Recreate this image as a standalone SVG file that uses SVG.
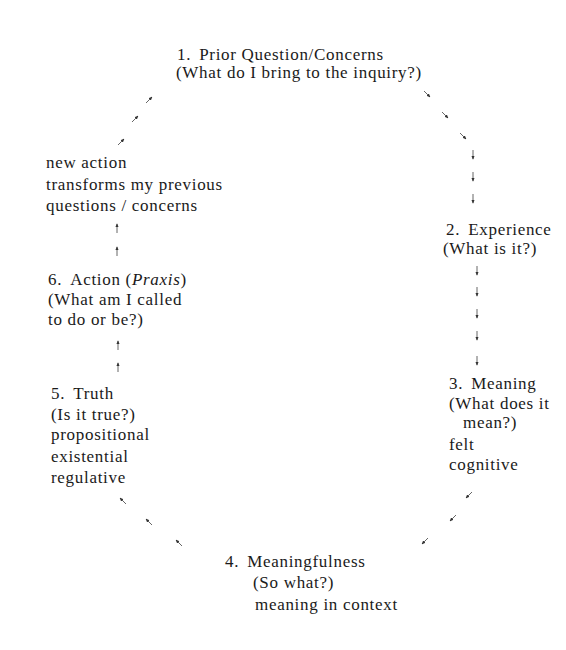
<svg xmlns="http://www.w3.org/2000/svg" width="566" height="650" viewBox="0 0 566 650">
<defs>
<marker id="ah" viewBox="0 0 6 6" refX="5" refY="3" markerWidth="4" markerHeight="4" orient="auto" markerUnits="userSpaceOnUse">
<path d="M0,0.5 L6,3 L0,5.5 z" fill="#333"/>
</marker>
<style>
text{font-family:"Liberation Serif",Tinos,"Noto Serif","DejaVu Serif",FreeSerif,Times,"Times New Roman",serif;font-size:17px;fill:#1a1a1a;letter-spacing:0.7px}
.c line{stroke:#555;stroke-width:0.9;marker-end:url(#ah)}
</style>
</defs>
<rect width="566" height="650" fill="#fff"/>
<g id="node1">
<text x="177" y="60">1.<tspan dx="8">Prior Question/Concerns</tspan></text>
<text x="176" y="78">(What do I bring to the inquiry?)</text>
</g>
<g id="node2">
<text x="446" y="235">2.<tspan dx="8">Experience</tspan></text>
<text x="443" y="254">(What is it?)</text>
</g>
<g id="node3">
<text x="449" y="389">3.<tspan dx="8">Meaning</tspan></text>
<text x="449" y="409">(What does it</text>
<text x="463" y="428">mean?)</text>
<text x="449" y="450">felt</text>
<text x="449" y="470">cognitive</text>
</g>
<g id="node4">
<text x="225" y="567">4.<tspan dx="8">Meaningfulness</tspan></text>
<text x="253" y="588">(So what?)</text>
<text x="255" y="610">meaning in context</text>
</g>
<g id="node5">
<text x="51" y="399">5.<tspan dx="8">Truth</tspan></text>
<text x="51" y="420">(Is it true?)</text>
<text x="51" y="440">propositional</text>
<text x="51" y="462">existential</text>
<text x="51" y="483">regulative</text>
</g>
<g id="node6">
<text x="48" y="285">6.<tspan dx="8">Action (</tspan><tspan font-style="italic">Praxis</tspan>)</text>
<text x="48" y="305">(What am I called</text>
<text x="48" y="325">to do or be?)</text>
</g>
<g id="node7">
<text x="46" y="168">new action</text>
<text x="46" y="190">transforms my previous</text>
<text x="46" y="211">questions / concerns</text>
</g>
<g id="connectors" class="c">
<line x1="146" y1="103" x2="152" y2="97"/>
<line x1="132" y1="122" x2="138" y2="116"/>
<line x1="118" y1="145" x2="124" y2="139"/>
<line x1="424" y1="91" x2="430" y2="97"/>
<line x1="442" y1="112" x2="448" y2="118"/>
<line x1="460" y1="133" x2="466" y2="139"/>
<line x1="473" y1="150" x2="473" y2="159"/>
<line x1="473" y1="172" x2="473" y2="181"/>
<line x1="473" y1="194" x2="473" y2="203"/>
<line x1="477" y1="266" x2="477" y2="275"/>
<line x1="477" y1="287" x2="477" y2="296"/>
<line x1="477" y1="309" x2="477" y2="318"/>
<line x1="477" y1="331" x2="477" y2="340"/>
<line x1="477" y1="356" x2="477" y2="365"/>
<line x1="472" y1="492" x2="466" y2="498"/>
<line x1="456" y1="515" x2="450" y2="521"/>
<line x1="428" y1="538" x2="422" y2="544"/>
<line x1="126" y1="504" x2="120" y2="498"/>
<line x1="152" y1="525" x2="146" y2="519"/>
<line x1="182" y1="546" x2="176" y2="540"/>
<line x1="117" y1="233" x2="117" y2="224"/>
<line x1="117" y1="256" x2="117" y2="247"/>
<line x1="118" y1="350" x2="118" y2="341"/>
<line x1="118" y1="372" x2="118" y2="363"/>
</g>
</svg>
